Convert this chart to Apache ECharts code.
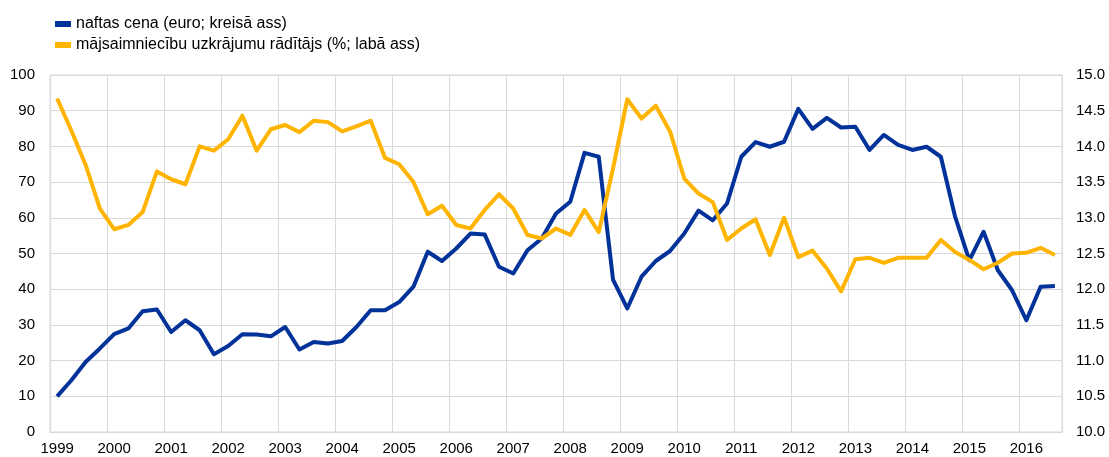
<!DOCTYPE html>
<html>
<head>
<meta charset="utf-8">
<script src="https://cdn.jsdelivr.net/npm/echarts@6/dist/echarts.min.js"></script>
<style>
  html, body { margin: 0; padding: 0; background: #fff; }
  #main { width: 1109px; height: 457px; }
</style>
</head>
<body>
<div id="main"></div>
<script>
// ceturkšņi 1999Q1 - 2016Q3
let years = [1999,2000,2001,2002,2003,2004,2005,2006,2007,2008,2009,2010,2011,2012,2013,2014,2015,2016];
let lastQuarter = 3;
let categories = [];
for (let y of years) {
    for (let q = 1; q <= 4; q++) {
        if (y == 2016 && q > lastQuarter) break;
        categories.push(y + 'Q' + q);
    }
}

// naftas cena (euro; kreisā ass)
let oilPrice = [
    10.0, 14.5, 19.6, 23.4, 27.4, 29.0, 33.8, 34.3,
    28.0, 31.3, 28.5, 21.8, 24.1, 27.4, 27.3, 26.8,
    29.4, 23.1, 25.2, 24.8, 25.5, 29.4, 34.1, 34.1,
    36.4, 40.7, 50.5, 47.9, 51.4, 55.6, 55.3, 46.3,
    44.4, 50.9, 54.2, 61.2, 64.5, 78.2, 77.1, 42.7,
    34.6, 43.5, 47.9, 50.7, 55.6, 62.0, 59.3, 64.0,
    77.1, 81.2, 79.9, 81.3, 90.5, 84.9, 88.0, 85.3,
    85.5, 79.0, 83.2, 80.4, 79.0, 79.9, 77.1, 60.3,
    48.1, 56.1, 45.3, 39.7, 31.3, 40.7, 40.9
];

// mājsaimniecību uzkrājumu rādītājs (%; labā ass)
let savingRate = [
    14.67, 14.22, 13.74, 13.13, 12.84, 12.90, 13.08, 13.65,
    13.54, 13.47, 14.00, 13.94, 14.10, 14.43, 13.94, 14.24,
    14.30, 14.20, 14.36, 14.34, 14.21, 14.28, 14.36, 13.84,
    13.75, 13.50, 13.05, 13.17, 12.90, 12.85, 13.11, 13.33,
    13.13, 12.76, 12.71, 12.85, 12.76, 13.11, 12.80, 13.69,
    14.66, 14.39, 14.57, 14.21, 13.55, 13.34, 13.22, 12.69,
    12.85, 12.98, 12.48, 13.00, 12.45, 12.54, 12.29, 11.97,
    12.42, 12.44, 12.37, 12.44, 12.44, 12.44, 12.69, 12.52,
    12.41, 12.28, 12.37, 12.50, 12.51, 12.58, 12.48
];

let seriesNames = ['naftas cena (euro; kreisā ass)', 'mājsaimniecību uzkrājumu rādītājs (%; labā ass)'];
let blue = '#003299';
let yellow = '#ffb400';
let gridColor = '#d9d9d9';
let font = "'Liberation Sans', Arial, sans-serif";

let myChart = echarts.init(document.getElementById('main'));
let option = {
    animation: false,
    backgroundColor: '#fff',
    textStyle: { fontFamily: font },
    legend: {
        orient: 'vertical',
        left: 50,
        top: 11,
        itemWidth: 16,
        itemHeight: 6,
        itemGap: 5,
        icon: 'rect',
        textStyle: { fontFamily: font, fontSize: 16, color: '#000' },
        data: seriesNames
    },
    grid: {
        left: 50,
        right: 47,
        top: 75,
        bottom: 25,
        show: true,
        borderColor: gridColor,
        borderWidth: 1
    },
    xAxis: {
        type: 'category',
        data: categories,
        boundaryGap: true,
        axisLine: { show: true, lineStyle: { color: gridColor, width: 1 } },
        axisTick: { show: false },
        axisLabel: {
            interval: 3,
            margin: 9,
            fontFamily: font,
            fontSize: 15,
            color: '#000',
            formatter: function (v) { return v.slice(0, 4); }
        },
        splitLine: { show: true, interval: 3, lineStyle: { color: gridColor, width: 1 } }
    },
    yAxis: [{
        type: 'value',
        min: 0,
        max: 100,
        interval: 10,
        axisLine: { show: false },
        axisTick: { show: false },
        axisLabel: { margin: 15, fontFamily: font, fontSize: 15, color: '#000' },
        splitLine: { show: true, lineStyle: { color: gridColor, width: 1 } }
    }, {
        type: 'value',
        min: 10,
        max: 15,
        interval: 0.5,
        axisLine: { show: false },
        axisTick: { show: false },
        axisLabel: {
            margin: 14, fontFamily: font, fontSize: 15, color: '#000',
            formatter: function (v) { return v.toFixed(1); }
        },
        splitLine: { show: false }
    }],
    series: [{
        name: seriesNames[0],
        type: 'line',
        yAxisIndex: 0,
        data: oilPrice,
        symbol: 'none',
        itemStyle: { color: blue },
        lineStyle: { width: 4, color: blue, join: 'round' }
    }, {
        name: seriesNames[1],
        type: 'line',
        yAxisIndex: 1,
        data: savingRate,
        symbol: 'none',
        itemStyle: { color: yellow },
        lineStyle: { width: 4, color: yellow, join: 'round' }
    }]
};
myChart.setOption(option);
</script>
</body>
</html>
